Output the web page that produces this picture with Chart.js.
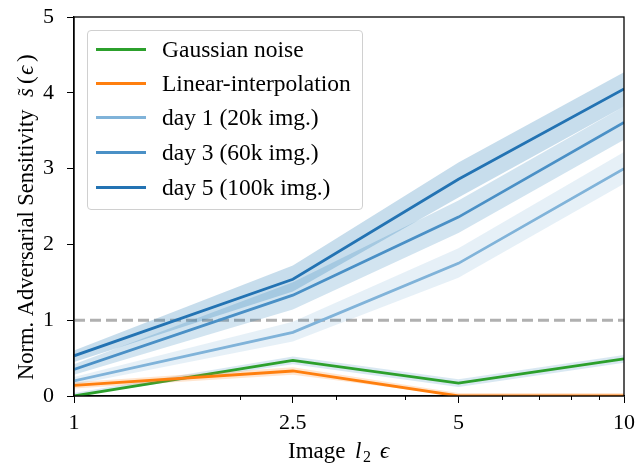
<!DOCTYPE html>
<html>
<head>
<meta charset="utf-8">
<script src="https://cdn.jsdelivr.net/npm/chart.js@4.4.1/dist/chart.umd.min.js"></script>
<style>
  html, body { margin: 0; padding: 0; background: #fff; }
  #wrap { position: relative; width: 637px; height: 466px; }
  #legend {
    position: absolute; left: 87px; top: 30px; width: 274px; height: 178px;
    border: 1px solid #d0d0d0; border-radius: 4px; background: rgba(255,255,255,0.85);
    font-family: 'Liberation Serif', 'DejaVu Serif', serif; font-size: 23.5px; color: #000;
  }
  .item { position: absolute; left: 0; height: 30px; }
  .swatch { position: absolute; left: 8px; width: 50px; height: 3px; }
  .label { position: absolute; left: 74px; top: 0; line-height: 30px; white-space: nowrap; }
</style>
</head>
<body>
<div id="wrap">
  <canvas id="c" width="637" height="466"></canvas>
  <div id="legend"></div>
</div>
<script>
// ---- data ----
const epsilons = [1, 2.5, 5, 10];
const xTickValues = [1, 2.5, 5, 10];
const xMinorTicks = [2, 3, 4, 6, 7, 8, 9];
const yTickValues = [0, 1, 2, 3, 4, 5];
const seriesNames = ['Gaussian noise', 'Linear-interpolation', 'day 1 (20k img.)', 'day 3 (60k img.)', 'day 5 (100k img.)'];

const gaussianMean  = [0.00, 0.47, 0.17, 0.49];
const gaussianLow   = [0.00, 0.42, 0.12, 0.44];
const gaussianHigh  = [0.04, 0.52, 0.22, 0.54];

const linearMean    = [0.14, 0.33, 0.00, 0.00];
const linearLow     = [0.10, 0.28, 0.00, 0.00];
const linearHigh    = [0.18, 0.38, 0.04, 0.04];

const day1Mean      = [0.20, 0.84, 1.75, 3.00];
const day1Low       = [0.15, 0.72, 1.56, 2.80];
const day1High      = [0.25, 0.98, 1.95, 3.22];

const day3Mean      = [0.35, 1.33, 2.36, 3.61];
const day3Low       = [0.28, 1.14, 2.15, 3.38];
const day3High      = [0.42, 1.50, 2.58, 3.82];

const day5Mean      = [0.53, 1.54, 2.86, 4.05];
const day5Low       = [0.45, 1.38, 2.62, 3.82];
const day5High      = [0.60, 1.72, 3.08, 4.27];

const referenceLevel = 1;

// ---- styles ----
const lineColors = ['#2ca02c', '#ff7f0e', '#80b3d9', '#4a90c6', '#2373b3'];
const bandColors = ['rgba(31,119,180,0.17)', 'rgba(255,127,14,0.2)', 'rgba(31,119,180,0.11)', 'rgba(31,119,180,0.2)', 'rgba(31,119,180,0.25)'];
const means = [gaussianMean, linearMean, day1Mean, day3Mean, day5Mean];
const lows  = [gaussianLow, linearLow, day1Low, day3Low, day5Low];
const highs = [gaussianHigh, linearHigh, day1High, day3High, day5High];

const pts = arr => epsilons.map((x, i) => ({ x: x, y: arr[i] }));

const ds = [];
ds.push({ data: [{x: epsilons[0], y: referenceLevel}, {x: epsilons[epsilons.length-1], y: referenceLevel}],
  borderColor: '#b0b0b0', borderWidth: 3, borderDash: [11, 5], pointRadius: 0, fill: false });
for (let s = 0; s < means.length; s++) {
  ds.push({ data: pts(highs[s]), borderWidth: 0, borderColor: 'rgba(0,0,0,0)', backgroundColor: bandColors[s], pointRadius: 0, fill: '+1' });
  ds.push({ data: pts(lows[s]), borderWidth: 0, borderColor: 'rgba(0,0,0,0)', pointRadius: 0, fill: false });
  ds.push({ data: pts(means[s]), borderWidth: 2.8, borderColor: lineColors[s], pointRadius: 0, fill: false });
}
const N = ds.length;
ds.forEach((d, i) => { d.order = N - i; d.tension = 0; });

const SERIF = "'Liberation Serif', 'DejaVu Serif', serif";

const framePlugin = {
  id: 'frame',
  afterDraw(chart) {
    const ctx = chart.ctx, a = chart.chartArea, xs = chart.scales.x;
    ctx.save();
    ctx.strokeStyle = '#000'; ctx.lineWidth = 1.3;
    ctx.strokeRect(a.left, a.top, a.right - a.left, a.bottom - a.top);
    ctx.lineWidth = 1;
    xMinorTicks.forEach(v => {
      const px = Math.round(xs.getPixelForValue(v)) + 0.5;
      ctx.beginPath(); ctx.moveTo(px, a.bottom); ctx.lineTo(px, a.bottom + 4); ctx.stroke();
    });
    ctx.fillStyle = '#000';
    ctx.textBaseline = 'alphabetic';
    const xParts = [
      { t: 'Image', f: '23px ' + SERIF, x: 288, dy: 0 },
      { t: 'l', f: 'italic 23px ' + SERIF, x: 355, dy: 0 },
      { t: '2', f: '16px ' + SERIF, x: 363, dy: 4 },
      { t: '\u03f5', f: 'italic 23px ' + SERIF, x: 380, dy: 0 }
    ];
    xParts.forEach(p => { ctx.font = p.f; ctx.fillText(p.t, p.x, 458 + p.dy); });
    ctx.translate(33, 380);
    ctx.rotate(-Math.PI / 2);
    const yParts = [
      { t: 'Norm. Adversarial Sensitivity', f: '22.5px ' + SERIF, x: 0 },
      { t: 's', f: 'italic 23px ' + SERIF, x: 283, tilde: true },
      { t: '(', f: '23px ' + SERIF, x: 296 },
      { t: '\u03f5', f: 'italic 23px ' + SERIF, x: 305 },
      { t: ')', f: '23px ' + SERIF, x: 318 }
    ];
    yParts.forEach(p => {
      ctx.font = p.f; ctx.fillText(p.t, p.x, 0);
      if (p.tilde) { ctx.font = '21px ' + SERIF; ctx.fillText('\u02dc', p.x + 1.5, -1); }
    });
    ctx.restore();
  }
};

new Chart(document.getElementById('c'), {
  type: 'line',
  data: { datasets: ds },
  plugins: [framePlugin],
  options: {
    responsive: false,
    animation: false,
    devicePixelRatio: 1,
    layout: { padding: { top: 17, right: 13, left: 0, bottom: 0 } },
    plugins: { legend: { display: false }, tooltip: { enabled: false } },
    elements: { line: { borderCapStyle: 'butt', borderJoinStyle: 'miter' } },
    scales: {
      x: {
        type: 'logarithmic', min: 1, max: 10,
        afterBuildTicks: s => { s.ticks = xTickValues.map(v => ({ value: v, major: true })); },
        afterFit: s => { s.height = 70; s.paddingLeft = 0; s.paddingRight = 0; },
        ticks: { color: '#000', font: { family: SERIF, size: 22 }, padding: 7, maxRotation: 0, autoSkip: false,
                 callback: v => String(v) },
        grid: { display: true, drawOnChartArea: false, drawTicks: true, tickLength: 7, color: '#000', lineWidth: 1 },
        border: { display: true, color: '#000', width: 1.3 },
        title: { display: false }
      },
      y: {
        type: 'linear', min: 0, max: 5,
        afterBuildTicks: s => { s.ticks = yTickValues.map(v => ({ value: v })); },
        afterFit: s => { s.width = 74; s.paddingTop = 0; s.paddingBottom = 0; },
        ticks: { color: '#000', font: { family: SERIF, size: 22 }, padding: 13, callback: v => String(v) },
        grid: { display: true, drawOnChartArea: false, drawTicks: true, tickLength: 7, color: '#000', lineWidth: 1 },
        border: { display: true, color: '#000', width: 1.3 },
        title: { display: false }
      }
    }
  }
});

const leg = document.getElementById('legend');
const rowTops = [3, 37, 71, 106, 141];
seriesNames.forEach((name, i) => {
  const it = document.createElement('div');
  it.className = 'item'; it.style.top = rowTops[i] + 'px'; it.style.width = '270px';
  const sw = document.createElement('div');
  sw.className = 'swatch'; sw.style.top = '14px'; sw.style.background = lineColors[i];
  const lb = document.createElement('div');
  lb.className = 'label'; lb.textContent = name;
  it.appendChild(sw); it.appendChild(lb); leg.appendChild(it);
});
</script>
</body>
</html>
